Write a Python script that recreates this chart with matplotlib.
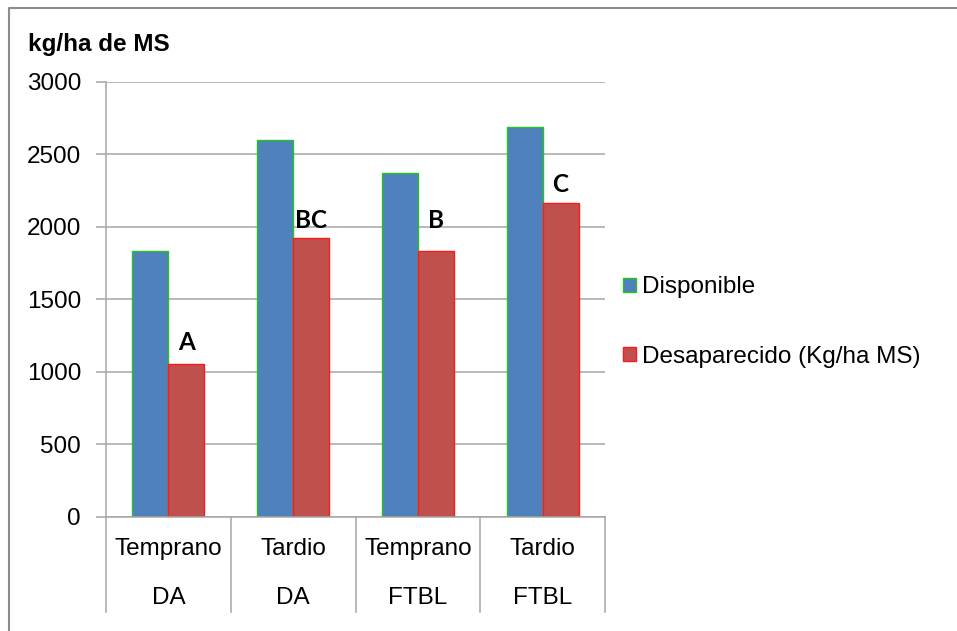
import matplotlib
matplotlib.use("Agg")
import matplotlib.pyplot as plt
from matplotlib.lines import Line2D
import numpy as np

# datos: materia seca disponible y desaparecida por momento y sistema
periodos = ["Temprano", "Tardio", "Temprano", "Tardio"]
sistemas = ["DA", "DA", "FTBL", "FTBL"]
disponible = [1835, 2600, 2370, 2690]
desaparecido = [1050, 1925, 1835, 2165]
letras = ["A", "BC", "B", "C"]
letras_alto = [1200, 2045, 2045, 2290]

plt.rcParams["font.family"] = ["Liberation Sans", "DejaVu Sans"]
gris = "#A6A6A6"
fs = 17.5

fig = plt.figure(figsize=(9.57, 6.31), dpi=100)
ax = fig.add_axes([0.1108, 0.1811, 0.5214, 0.6894])

x = np.arange(len(periodos))
w = 0.288
ax.bar(x - w / 2, disponible, w, color="#4F81BD", edgecolor="#22C322",
       linewidth=1, label="Disponible")
ax.bar(x + w / 2, desaparecido, w, color="#C0504D", edgecolor="#FF1A1A",
       linewidth=1, label="Desaparecido (Kg/ha MS)")

ax.set_xlim(-0.5, 3.5)
ax.set_ylim(0, 3000)
ax.set_yticks(range(0, 3001, 500))
ax.set_xticks([])
ax.yaxis.grid(True, color=gris, linewidth=1.1)
ax.set_axisbelow(True)
ax.tick_params(axis="y", direction="out", length=7.2, width=1.1, color=gris,
               pad=10.8, labelsize=fs)
for s in ["top", "right"]:
    ax.spines[s].set_visible(False)
for s in ["left", "bottom"]:
    ax.spines[s].set_color(gris)
    ax.spines[s].set_linewidth(1.1)

# eje de categorias en dos niveles
tr = ax.get_xaxis_transform()
for i in range(len(periodos)):
    ax.text(i, -0.0743, periodos[i], transform=tr, ha="center", va="center", fontsize=fs)
    ax.text(i, -0.187, sistemas[i], transform=tr, ha="center", va="center", fontsize=fs)
for b in np.arange(-0.5, len(periodos), 1):
    ax.plot([b, b], [0, -0.2184], transform=tr, color=gris, lw=1.1, clip_on=False)

# letras de significancia sobre las barras rojas
for i in range(len(letras)):
    ax.text(x[i] + w / 2, letras_alto[i], letras[i], ha="center", va="center",
            fontsize=17.5, fontweight="bold", family=["Lato", "DejaVu Sans"])

fig.text(28 / 957, 1 - 45 / 631, "kg/ha de MS", fontsize=fs, fontweight="bold",
         ha="left", va="center")

fig.legend(loc="center left", bbox_to_anchor=(623 / 957, 0.4897), frameon=False,
           fontsize=fs, handlelength=0.53, handleheight=0.53, handletextpad=0.27,
           labelspacing=1.95, borderpad=0, borderaxespad=0)

# marco exterior
fig.add_artist(Line2D([9 / 957, 9 / 957, 1.0], [0, 1 - 8 / 631, 1 - 8 / 631],
                      transform=fig.transFigure, color="#8C8C8C", lw=1.5))

fig.savefig("out.png", dpi=100)
